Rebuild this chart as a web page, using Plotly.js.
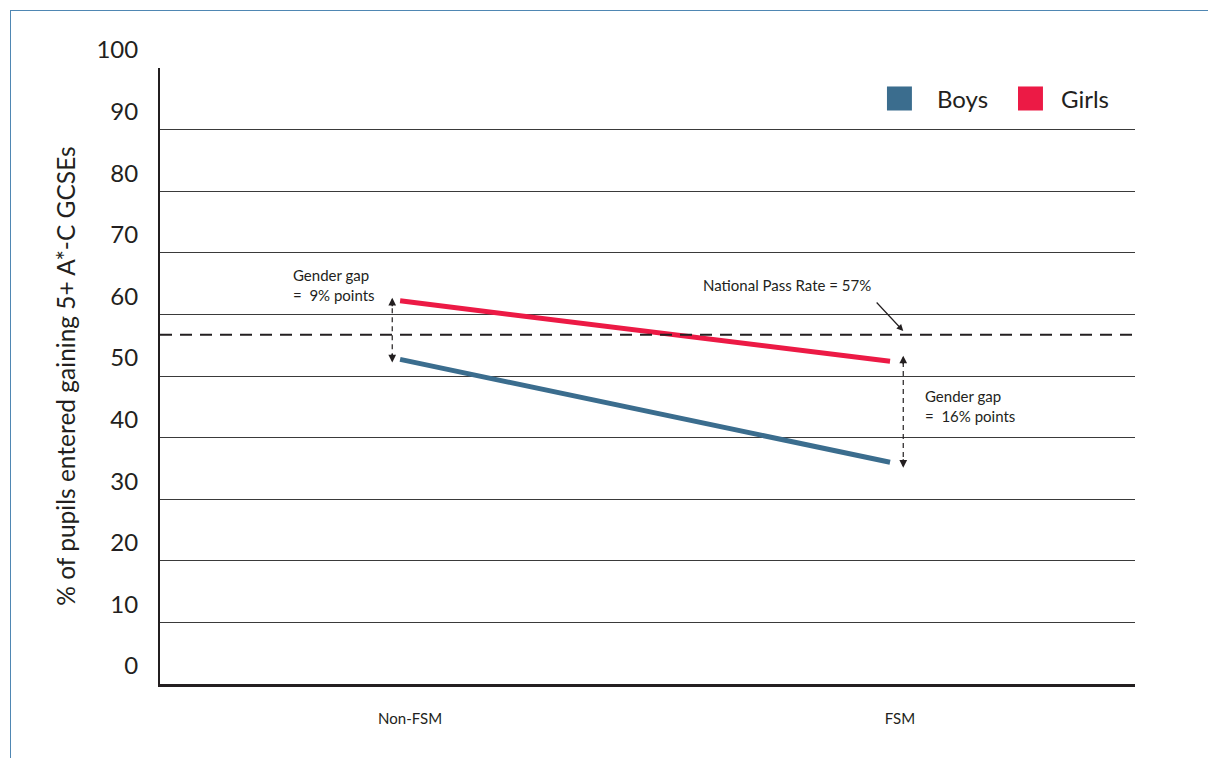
<!DOCTYPE html>
<html>
<head>
<meta charset="utf-8">
<script src="https://cdn.plot.ly/plotly-3.0.1.min.js"></script>
<style>
html,body{margin:0;padding:0;background:#fff;}
#wrap{position:relative;width:1208px;height:758px;}
#chart{width:1208px;height:758px;}
#frame{position:absolute;left:10px;top:10px;right:-2px;bottom:-2px;border-top:1px solid #4f87b3;border-left:1px solid #4f87b3;pointer-events:none;}
</style>
</head>
<body>
<div id="wrap"><div id="chart"></div><div id="frame"></div></div>
<script>
// ---- data ----
var categories = ['Non-FSM', 'FSM'];
var seriesNames = ['Boys', 'Girls'];
var boys = [52.7, 36];
var girls = [62.2, 52.4];
var passRate = 56.7;
var passLabel = 'National Pass Rate = 57%';
var gapLabels = ['Gender gap<br>=  9% points', 'Gender gap<br>=  16% points'];
var yTicks = [0, 10, 20, 30, 40, 50, 60, 70, 80, 90, 100];
var yTitle = '% of pupils entered gaining 5+ A*-C GCSEs';

var colors = {Boys: '#3b6d8e', Girls: '#ec1a45'};
var FONT = 'Lato, "Open Sans", sans-serif';
var TXT = '#231f20';

var traces = [
  {x: categories, y: boys, name: seriesNames[0], mode: 'lines', type: 'scatter',
   line: {color: colors.Boys, width: 5}, showlegend: false, hoverinfo: 'skip'},
  {x: categories, y: girls, name: seriesNames[1], mode: 'lines', type: 'scatter',
   line: {color: colors.Girls, width: 5}, showlegend: false, hoverinfo: 'skip'}
];

var gapX = [-0.016, 1.027];
var shapes = [
  {type: 'line', xref: 'paper', x0: 0, x1: 1, yref: 'y', y0: passRate, y1: passRate,
   line: {color: '#231f20', width: 2, dash: '12px,8px'}},
  {type: 'line', xref: 'x', x0: gapX[0], x1: gapX[0], yref: 'y', y0: boys[0] + 0.2, y1: girls[0] + 0.2,
   line: {color: '#231f20', width: 1.2, dash: '5px,4px'}},
  {type: 'line', xref: 'x', x0: gapX[1], x1: gapX[1], yref: 'y', y0: boys[1] - 0.6, y1: girls[1] + 0.6,
   line: {color: '#231f20', width: 1.2, dash: '5px,4px'}}
];

// manual legend (square swatches)
var legX = [0.7456, 0.88];
var legTextX = [0.795, 0.922];
var annotations = [];
seriesNames.forEach(function (n, i) {
  shapes.push({type: 'rect', xref: 'paper', yref: 'paper', x0: legX[i], x1: legX[i] + 0.0256,
    y0: 0.931, y1: 0.97, fillcolor: colors[n], line: {width: 0}});
  annotations.push({xref: 'paper', yref: 'paper', x: legTextX[i], y: 0.951, xanchor: 'left', yanchor: 'middle',
    text: n, showarrow: false, font: {family: FONT, size: 24, color: TXT}});
});

function head(x, y, ay) {
  return {x: x, y: y, xref: 'x', yref: 'y', ax: 0, ay: ay, axref: 'pixel', ayref: 'pixel',
    text: '', showarrow: true, arrowhead: 2, arrowsize: 1.1, arrowwidth: 1.4, arrowcolor: '#231f20'};
}
annotations.push(head(gapX[0], girls[0] + 0.5, 10));
annotations.push(head(gapX[0], boys[0] - 0.5, -10));
annotations.push(head(gapX[1], girls[1] + 0.9, 10));
annotations.push(head(gapX[1], boys[1] - 0.9, -10));

annotations.push({x: -0.222, y: 64.7, xref: 'x', yref: 'y', xanchor: 'left', yanchor: 'middle', align: 'left',
  text: gapLabels[0], showarrow: false, font: {family: FONT, size: 15, color: TXT}});
annotations.push({x: 1.068, y: 45.2, xref: 'x', yref: 'y', xanchor: 'left', yanchor: 'middle', align: 'left',
  text: gapLabels[1], showarrow: false, font: {family: FONT, size: 15, color: TXT}});
annotations.push({x: 0.79, y: 64.7, xref: 'x', yref: 'y', xanchor: 'center', yanchor: 'middle',
  text: passLabel, showarrow: false, font: {family: FONT, size: 15, color: TXT}});
annotations.push({x: gapX[1], y: passRate + 0.6, xref: 'x', yref: 'y', ax: -28, ay: -30,
  text: '', showarrow: true, arrowhead: 2, arrowsize: 1.1, arrowwidth: 1.2, arrowcolor: '#231f20'});

var layout = {
  width: 1208, height: 758,
  margin: {l: 160, r: 73, t: 68, b: 74, pad: 0},
  paper_bgcolor: '#ffffff', plot_bgcolor: '#ffffff',
  font: {family: FONT, color: TXT},
  showlegend: false,
  xaxis: {
    type: 'category', range: [-0.49, 1.5], showgrid: false, zeroline: false,
    showline: true, linecolor: '#231f20', linewidth: 3,
    ticks: 'outside', ticklen: 0, ticklabelstandoff: 19, ticklabelshift: 10,
    tickfont: {family: FONT, size: 15, color: TXT}, fixedrange: true
  },
  yaxis: {
    range: [0, 100], tickvals: yTicks, showgrid: true, gridcolor: '#3a3a3a', gridwidth: 1,
    zeroline: false, showline: true, linecolor: '#231f20', linewidth: 2,
    ticks: '', ticklabelstandoff: 15, ticklabelshift: -18,
    tickfont: {family: FONT, size: 24, color: TXT},
    title: {text: yTitle, standoff: 14, font: {family: FONT, size: 24.5, color: TXT}},
    fixedrange: true
  },
  shapes: shapes,
  annotations: annotations
};

Plotly.newPlot('chart', traces, layout, {displayModeBar: false, staticPlot: true});
</script>
</body>
</html>
